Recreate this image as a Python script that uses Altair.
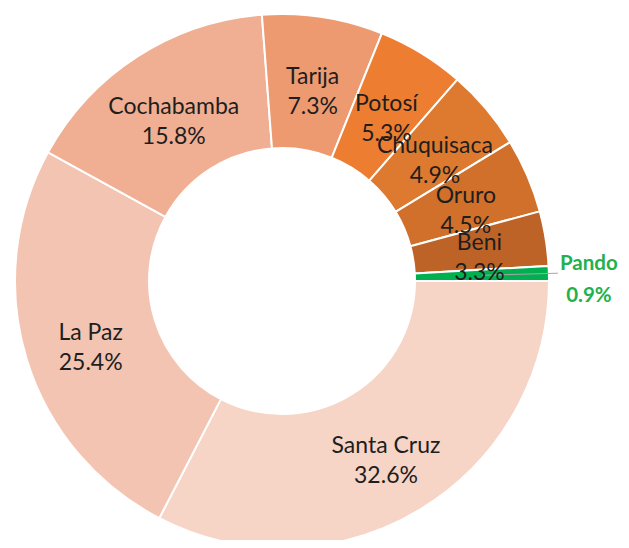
import math
import altair as alt
import pandas as pd

departments = ["Santa Cruz", "La Paz", "Cochabamba", "Tarija", "Potosí",
               "Chuquisaca", "Oruro", "Beni", "Pando"]
shares = [32.6, 25.4, 15.8, 7.3, 5.3, 4.9, 4.5, 3.3, 0.9]
labels = ["32.6%", "25.4%", "15.8%", "7.3%", "5.3%", "4.9%", "4.5%", "3.3%", "0.9%"]
colors = ["#F6D4C6", "#F3C4B1", "#F0AE93", "#EE9A71", "#ED7D31",
          "#DE7A2F", "#D0702B", "#BE6327", "#00B050"]

df = pd.DataFrame({
    "dept": departments,
    "share": shares,
    "pct": labels,
    "order": list(range(len(departments))),
})
df["label"] = [f"{d}\n{p}" if d != "Pando" else "" for d, p in zip(departments, labels)]
df["outlabel"] = [f"{d}\n{p}" if d == "Pando" else "" for d, p in zip(departments, labels)]

CX, CY = 274, 273
start = math.pi / 2
theta_scale = alt.Scale(domain=[0, 100], range=[start, start + 2 * math.pi])
color_scale = alt.Scale(domain=departments, range=colors)

base = alt.Chart(df).encode(
    theta=alt.Theta("share:Q", stack=True, scale=theta_scale),
    order=alt.Order("order:Q"),
    x=alt.value(CX),
    y=alt.value(CY),
)

arcs = base.mark_arc(innerRadius=133, outerRadius=267, stroke="white", strokeWidth=2).encode(
    color=alt.Color("dept:N", scale=color_scale, legend=None)
)

text_in = base.mark_text(radius=200, lineBreak="\n", font="Lato", fontSize=23,
                         color="#1E1E1E", lineHeight=30, dy=-6).encode(text="label:N")

text_out = base.mark_text(radius=307, lineBreak="\n", font="Lato", fontSize=20.5,
                          fontWeight="bold", color="#22B14C", lineHeight=32, dy=-8).encode(text="outlabel:N")

# leader line for Pando, angles derived from data via window sum
leader = alt.Chart(df).transform_window(
    cum="sum(share)", sort=[alt.SortField("order")]
).transform_calculate(
    mid=f"{start} + 2*PI*(datum.cum - datum.share/2)/100"
).transform_filter(
    alt.datum.dept == "Pando"
).transform_calculate(
    x1=f"{CX} + 200*sin(datum.mid)", y1=f"{CY} - 200*cos(datum.mid)",
    x2=f"{CX} + 276*sin(datum.mid)", y2=f"{CY} - 276*cos(datum.mid)",
).mark_rule(color="#A6A6A6", strokeWidth=1).encode(
    x=alt.X("x1:Q", scale=None), y=alt.Y("y1:Q", scale=None),
    x2="x2:Q", y2="y2:Q",
)

chart = alt.layer(arcs, leader, text_in, text_out).properties(
    width=613, height=532, padding=0, autosize="none"
).configure_view(stroke=None)

chart.save("out.html", embed_options={"renderer": "svg", "actions": False})
